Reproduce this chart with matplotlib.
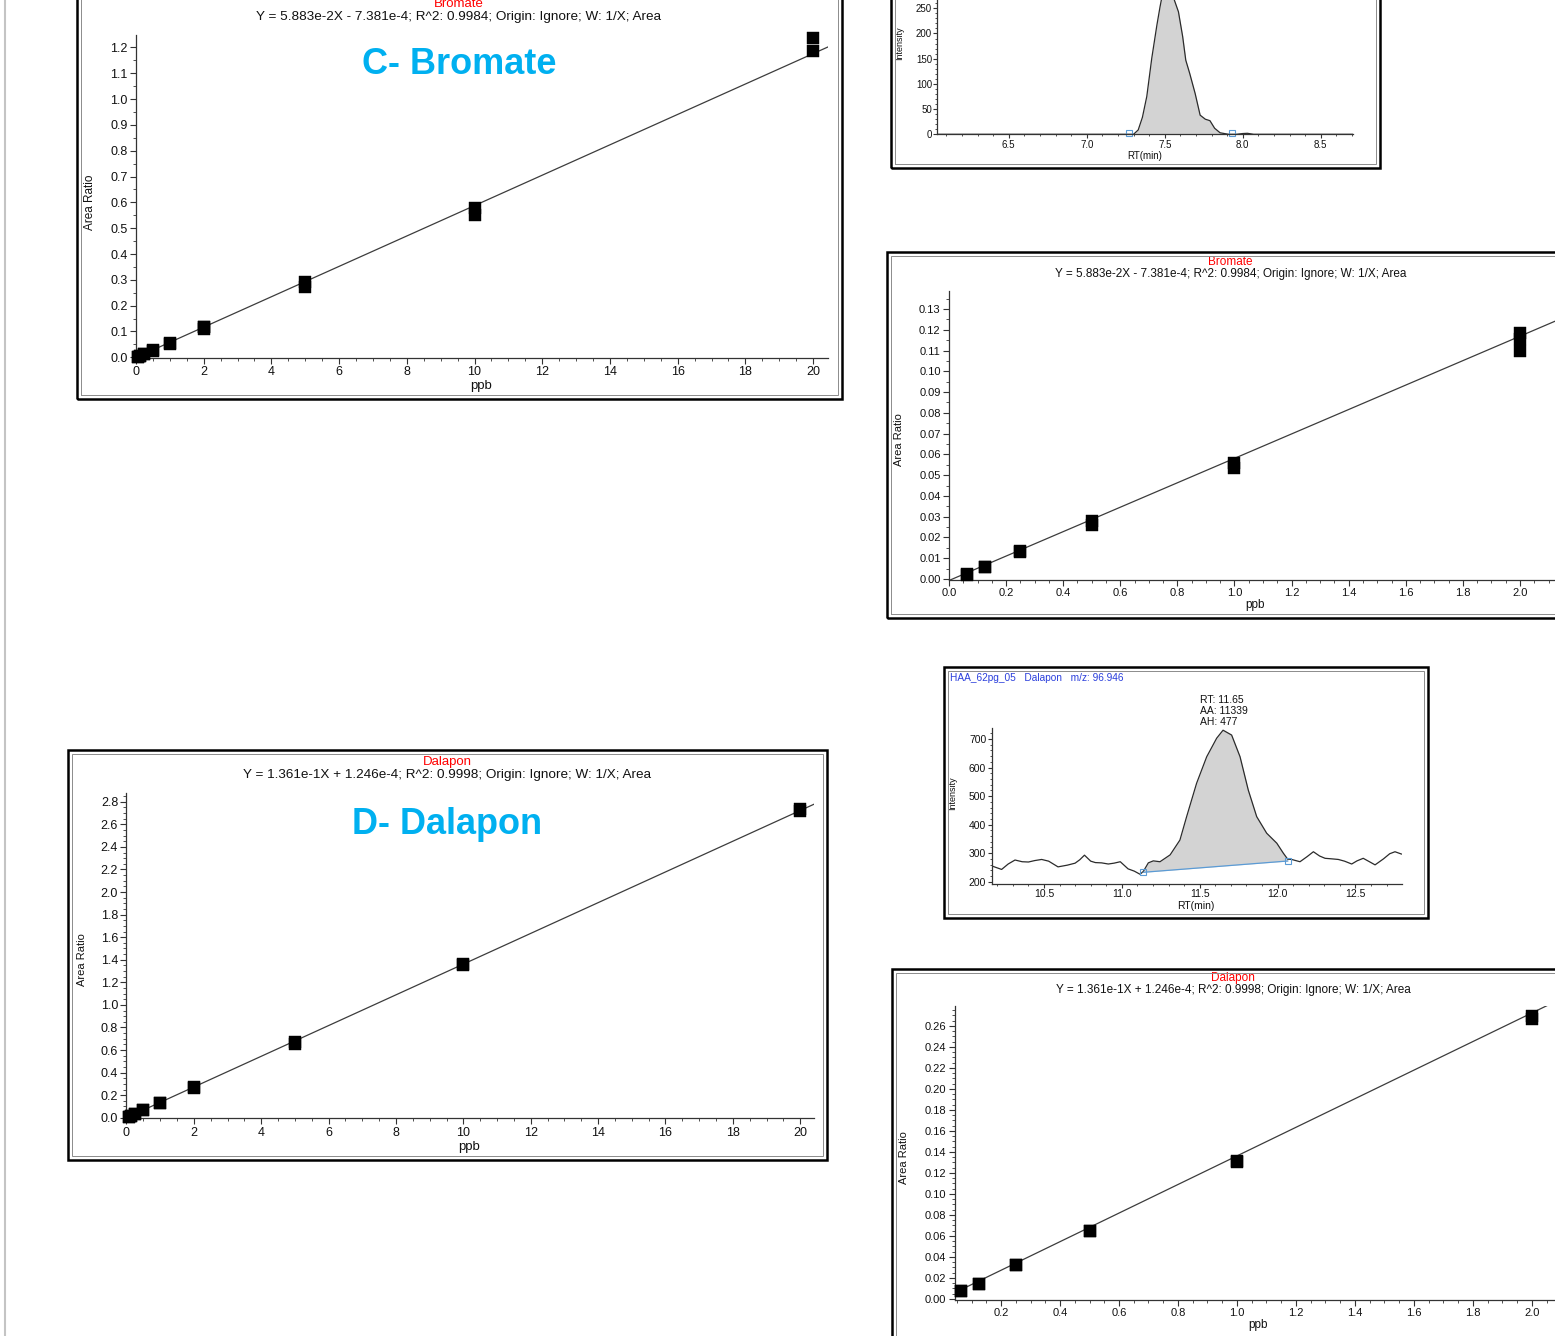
import numpy as np
import matplotlib
matplotlib.use('Agg')
import matplotlib.pyplot as plt
from matplotlib.ticker import MultipleLocator, FormatStrFormatter
from matplotlib.patches import Rectangle
from matplotlib.lines import Line2D

plt.rcParams['font.family'] = ['Liberation Sans', 'DejaVu Sans']

# ---------------- data ----------------
bromate_x = [0.0625, 0.0625, 0.125, 0.125, 0.25, 0.25, 0.5, 0.5, 1.0, 1.0,
             2.0, 2.0, 2.0, 5.0, 5.0, 10.0, 10.0, 20.0, 20.0]
bromate_y = [0.0020, 0.0022, 0.0058, 0.0060, 0.0130, 0.0135, 0.0280, 0.0262,
             0.0558, 0.0534, 0.1184, 0.1155, 0.1098, 0.290, 0.272, 0.577,
             0.553, 1.235, 1.185]
bromate_slope = 5.883e-2
bromate_intercept = -7.381e-4
bromate_eq = "Y = 5.883e-2X - 7.381e-4; R^2: 0.9984; Origin: Ignore; W: 1/X; Area"

dalapon_x = [0.0625, 0.0625, 0.125, 0.125, 0.25, 0.25, 0.5, 0.5, 1.0, 1.0,
             2.0, 2.0, 5.0, 5.0, 10.0, 10.0, 20.0, 20.0]
dalapon_y = [0.0076, 0.0076, 0.0147, 0.0147, 0.0320, 0.0320, 0.0647, 0.0643,
             0.1310, 0.1300, 0.2695, 0.2670, 0.667, 0.657, 1.365, 1.355,
             2.735, 2.720]
dalapon_slope = 1.361e-1
dalapon_intercept = 1.246e-4
dalapon_eq = "Y = 1.361e-1X + 1.246e-4; R^2: 0.9998; Origin: Ignore; W: 1/X; Area"

# Bromate chromatogram (RT min, intensity)
bro_rt = [6.04, 7.25, 7.30, 7.33, 7.357, 7.385, 7.417, 7.45, 7.47, 7.49,
          7.52, 7.55, 7.562, 7.588, 7.615, 7.635, 7.66, 7.695, 7.727, 7.76,
          7.79, 7.82, 7.855, 7.91, 7.96, 8.0, 8.03, 8.07, 8.71]
bro_int = [0, 0, 0, 8.6, 33.7, 75, 151, 217, 253, 285,
           300, 285, 266, 243, 194, 147, 121, 81, 38, 30,
           27, 12, 3, 0, 0, 1.5, 2, 0, 0]
bro_peak_start, bro_peak_end = 7.27, 7.93

# Dalapon chromatogram
dal_rt = [10.166, 10.228, 10.27, 10.314, 10.36, 10.40, 10.44, 10.485, 10.53,
          10.59, 10.65, 10.70, 10.73, 10.76, 10.80, 10.83, 10.87, 10.913,
          10.95, 10.99, 11.04, 11.08, 11.117, 11.138, 11.17, 11.202, 11.245,
          11.31, 11.373, 11.416, 11.48, 11.545, 11.609, 11.65, 11.705, 11.759,
          11.812, 11.866, 11.93, 11.995, 12.037, 12.065, 12.09, 12.144, 12.19,
          12.23, 12.27, 12.305, 12.35, 12.39, 12.43, 12.476, 12.51, 12.55,
          12.59, 12.626, 12.68, 12.72, 12.754, 12.795]
dal_int = [255, 243, 262, 276, 270, 269, 274, 278, 272,
           252, 258, 265, 277, 293, 272, 267, 266, 262,
           265, 270, 245, 237, 226, 236, 266, 273, 270,
           294, 346, 428, 545, 638, 703, 731, 714, 638,
           521, 428, 370, 335, 300, 279, 278, 270, 288,
           305, 290, 282, 280, 278, 272, 262, 273, 282,
           270, 259, 280, 298, 305, 297]
dal_base_x = [11.138, 12.065]
dal_base_y = [233, 272.5]
dal_title = "HAA_62pg_05   Dalapon   m/z: 96.946"
dal_annot = ["RT: 11.65", "AA: 11339", "AH: 477"]

# ---------------- figure ----------------
W, H = 1555, 1336
fig = plt.figure(figsize=(W / 100, H / 100), dpi=100)
fig.patch.set_facecolor('white')
TXT = '#111111'


def fx(px):
    return px / W


def fy(py):
    return 1 - py / H


def add_ax(l, t, r, b):
    ax = fig.add_axes([l / W, 1 - b / H, (r - l) / W, (b - t) / H])
    ax.patch.set_alpha(0)
    for s in ('top', 'right'):
        ax.spines[s].set_visible(False)
    for s in ('left', 'bottom'):
        ax.spines[s].set_color('#333333')
        ax.spines[s].set_linewidth(0.9)
    return ax


def frame(l, t, r, b):
    fig.add_artist(Rectangle((fx(l), fy(b)), (r - l) / W, (b - t) / H,
                             transform=fig.transFigure, fill=False,
                             ec='black', lw=1.8, zorder=5))
    d = 4
    fig.add_artist(Rectangle((fx(l + d), fy(b - d)), (r - l - 2 * d) / W,
                             (b - t - 2 * d) / H, transform=fig.transFigure,
                             fill=False, ec='#8c8c8c', lw=0.7, zorder=5))


def ftext(x, y, s, **kw):
    kw.setdefault('ha', 'center')
    kw.setdefault('va', 'center')
    kw.setdefault('color', TXT)
    return fig.text(fx(x), fy(y), s, **kw)


def style_ticks(ax, xmaj, xmin_, xfmt, ymaj, ymin_, yfmt, size,
                length=4.5, pad=1.5):
    ax.xaxis.set_major_locator(MultipleLocator(xmaj))
    ax.xaxis.set_minor_locator(MultipleLocator(xmin_))
    ax.yaxis.set_major_locator(MultipleLocator(ymaj))
    ax.yaxis.set_minor_locator(MultipleLocator(ymin_))
    ax.xaxis.set_major_formatter(FormatStrFormatter(xfmt))
    ax.yaxis.set_major_formatter(FormatStrFormatter(yfmt))
    ax.tick_params(which='major', direction='out', length=length, width=0.8,
                   labelsize=size, pad=pad, color='#333333', labelcolor=TXT)
    ax.tick_params(which='minor', direction='out', length=length * 0.55,
                   width=0.6, color='#333333')


def calib(ax, xs, ys, slope, intercept, xlim, ylim):
    xs = np.asarray(xs)
    ys = np.asarray(ys)
    ax.set_xlim(xlim)
    ax.set_ylim(ylim)
    xl = np.linspace(xlim[0], xlim[1], 300)
    ax.plot(xl, slope * xl + intercept, color='#3c3c3c', lw=0.9, zorder=2)
    m = xs <= xlim[1]
    ax.plot(xs[m], ys[m], 's', ms=9, color='black', mec='black', mew=0.3,
            clip_on=False, zorder=3)


# page border line
fig.add_artist(Line2D([fx(5), fx(5)], [0, 1], transform=fig.transFigure,
                      color='#c4c4c4', lw=1.5))

# ---------- Panel A: Bromate full range ----------
frame(77, -20, 842, 399)
axA = add_ax(136, 35, 828, 358.1)
calib(axA, bromate_x, bromate_y, bromate_slope, bromate_intercept,
      (0, 20.44), (-0.003, 1.248))
style_ticks(axA, 2, 0.5, '%d', 0.1, 0.05, '%.1f', 9)
ftext(459, 4, 'Bromate', color='red', fontsize=9.5)
ftext(459, 17, bromate_eq, fontsize=9.7)
ftext(459, 64, 'C- Bromate', color='#00B0F0', fontsize=26, fontweight='bold')
ftext(90, 202, 'Area Ratio', rotation=90, fontsize=8.5)
ftext(481, 386, 'ppb', fontsize=9.5)

# ---------- Panel C: Bromate chromatogram ----------
frame(891, -20, 1380, 168)
axC = add_ax(937.3, -11.9, 1353.3, 134.3)
axC.set_xlim(6.042, 8.709)
axC.set_ylim(0, 290)
rt = np.asarray(bro_rt)
it = np.asarray(bro_int)
axC.fill_between(rt, it, 0, where=(rt >= bro_peak_start) & (rt <= bro_peak_end),
                 color='#d3d3d3', lw=0)
axC.plot(rt, it, color='#2b2b2b', lw=0.9)
axC.plot([bro_peak_start, bro_peak_end], [2, 2], 's', ms=4.5, mfc='none',
         mec='#5b9bd5', mew=0.8, clip_on=False)
style_ticks(axC, 0.5, 0.1, '%.1f', 50, 10, '%d', 7, length=3, pad=0.8)
ftext(900, 43, 'Intensity', rotation=90, fontsize=6.5)
ftext(1145, 156, 'RT(min)', fontsize=7)

# ---------- Panel B: Bromate low range ----------
frame(887, 252, 1580, 618)
axB = add_ax(949, 291, 1568.5, 580)
calib(axB, bromate_x, bromate_y, bromate_slope, bromate_intercept,
      (0, 2.17), (-0.0005, 0.1387))
style_ticks(axB, 0.2, 0.05, '%.1f', 0.01, 0.005, '%.2f', 8)
ftext(1230, 262, 'Bromate', color='red', fontsize=8.5)
ftext(1231, 273.5, bromate_eq, fontsize=8.5)
ftext(899, 440, 'Area Ratio', rotation=90, fontsize=8)
ftext(1255, 605, 'ppb', fontsize=8.5)

# ---------- Panel F: Dalapon chromatogram ----------
frame(944, 667, 1428, 918)
axF = add_ax(991.5, 728, 1402, 883.5)
axF.set_xlim(10.163, 12.799)
axF.set_ylim(193.7, 738.7)
drt = np.asarray(dal_rt)
dit = np.asarray(dal_int)
pk = (drt >= dal_base_x[0]) & (drt <= dal_base_x[1])
base = dal_base_y[0] + (drt - dal_base_x[0]) * (dal_base_y[1] - dal_base_y[0]) / (dal_base_x[1] - dal_base_x[0])
axF.fill_between(drt, dit, base, where=pk, color='#d3d3d3', lw=0)
axF.plot(drt, dit, color='#2b2b2b', lw=0.9)
axF.plot(dal_base_x, dal_base_y, color='#5b9bd5', lw=0.9)
axF.plot(dal_base_x, dal_base_y, 's', ms=4.5, mfc='none', mec='#5b9bd5', mew=0.8)
style_ticks(axF, 0.5, 0.1, '%.1f', 100, 20, '%d', 7.5, length=3, pad=0.8)
ftext(950, 678, dal_title, ha='left', fontsize=7.3, color='#2b3fdc')
for i, s in enumerate(dal_annot):
    ftext(1200, 700 + 11 * i, s, ha='left', fontsize=7.5)
ftext(953, 793, 'Intensity', rotation=90, fontsize=6.5)
ftext(1196, 906, 'RT(min)', fontsize=7.5)

# ---------- Panel D: Dalapon full range ----------
frame(68, 750, 827, 1160)
axD = add_ax(126.5, 792.7, 814, 1118.3)
calib(axD, dalapon_x, dalapon_y, dalapon_slope, dalapon_intercept,
      (0, 20.41), (-0.005, 2.88))
style_ticks(axD, 2, 0.5, '%d', 0.2, 0.05, '%.1f', 9)
ftext(447, 762, 'Dalapon', color='red', fontsize=9.5)
ftext(447, 775, dalapon_eq, fontsize=9.7)
ftext(447, 825, 'D- Dalapon', color='#00B0F0', fontsize=26, fontweight='bold')
ftext(82, 960, 'Area Ratio', rotation=90, fontsize=8)
ftext(469, 1147, 'ppb', fontsize=9.5)

# ---------- Panel E: Dalapon low range ----------
frame(892, 969, 1580, 1360)
axE = add_ax(954.5, 1006, 1576, 1300)
calib(axE, dalapon_x, dalapon_y, dalapon_slope, dalapon_intercept,
      (0.042, 2.15), (-0.001, 0.279))
style_ticks(axE, 0.2, 0.05, '%.1f', 0.02, 0.005, '%.2f', 8)
ftext(1233, 978.5, 'Dalapon', color='red', fontsize=8.5)
ftext(1233, 990, dalapon_eq, fontsize=8.5)
ftext(904, 1158, 'Area Ratio', rotation=90, fontsize=8)
ftext(1258, 1325, 'ppb', fontsize=8.5)

fig.savefig('out.png', dpi=100)
